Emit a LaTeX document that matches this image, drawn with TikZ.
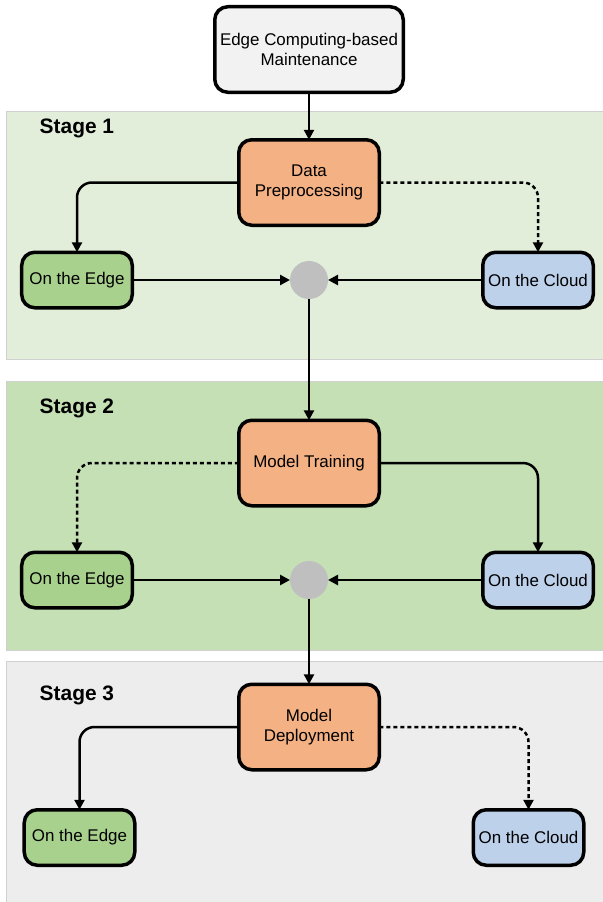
\documentclass[tikz,border=0pt]{standalone}
\usepackage{fontspec}
\setmainfont{Liberation Sans}
\usetikzlibrary{arrows.meta}
\definecolor{bgone}{HTML}{E2EED9}
\definecolor{bgtwo}{HTML}{C5E0B4}
\definecolor{bgthree}{HTML}{EDEDED}
\definecolor{bgline}{HTML}{D0D0D0}
\definecolor{orangefill}{HTML}{F4B183}
\definecolor{greenfill}{HTML}{A9D18E}
\definecolor{bluefill}{HTML}{BDD1EA}
\definecolor{topfill}{HTML}{F2F2F2}
\definecolor{hubfill}{HTML}{BFBFBF}
\begin{document}
\begin{tikzpicture}[x=1bp,y=-1bp,
  every node/.style={font=\fontsize{17}{20.5}\selectfont},
  stagebg/.style={draw=bgline,line width=1bp},
  box/.style={draw=black,line width=3.5bp,rounded corners=13bp,inner sep=0pt,outer sep=0pt,align=center},
  topbox/.style={box,fill=topfill,minimum width=188.5bp,minimum height=85.5bp},
  procbox/.style={box,fill=orangefill,minimum width=140.5bp,minimum height=85.5bp},
  edgebox/.style={box,fill=greenfill,minimum width=110.5bp,minimum height=55.5bp},
  cloudbox/.style={box,fill=bluefill,minimum width=110.5bp,minimum height=55.5bp},
  hub/.style={circle,fill=hubfill,minimum size=38bp,inner sep=0pt,outer sep=0pt},
  stagelabel/.style={font=\fontsize{21}{25}\selectfont\bfseries,anchor=west,inner sep=0pt},
  conn/.style={line width=2.5bp,-{Triangle[length=10bp,width=10bp]},rounded corners=15bp},
  dconn/.style={conn,dash pattern=on 4bp off 3bp}
]
\useasboundingbox (0,0) rectangle (603,902);
% stage backgrounds
\fill[white] (0,0) rectangle (603,902);
\draw[stagebg,fill=bgone] (6.5,111) rectangle (604,359);
\draw[stagebg,fill=bgtwo] (6.5,381) rectangle (604,650);
\draw[stagebg,fill=bgthree] (6.5,661) rectangle (604,903);
\node[stagelabel] (s1) at (39.5,128) {Stage 1};
\node[stagelabel] (s2) at (39.5,408) {Stage 2};
\node[stagelabel] (s3) at (39.5,695) {Stage 3};
% nodes
\node[topbox] (top) at (309,49.5) {Edge Computing-based\\Maintenance};
\node[procbox] (dp) at (309,182.5) {Data\\Preprocessing};
\node[edgebox] (e1) at (77,280) {On the Edge};
\node[cloudbox] (c1) at (538,280) {On the Cloud};
\node[hub] (h1) at (309,280) {};
\node[procbox] (mt) at (309,463) {Model Training};
\node[edgebox] (e2) at (77,580) {On the Edge};
\node[cloudbox] (c2) at (538,580) {On the Cloud};
\node[hub] (h2) at (309,580) {};
\node[procbox] (md) at (309,727) {Model\\Deployment};
\node[edgebox] (e3) at (79.5,837.5) {On the Edge};
\node[cloudbox] (c3) at (528.5,837.5) {On the Cloud};
% connectors
\draw[conn] (top) -- (dp);
\draw[conn] (dp.west) -| (e1.north);
\draw[dconn] (dp.east) -| (c1.north);
\draw[conn] (e1) -- (h1);
\draw[conn] (c1) -- (h1);
\draw[conn] (h1) -- (mt);
\draw[dconn] (mt.west) -| (e2.north);
\draw[conn] (mt.east) -| (c2.north);
\draw[conn] (e2) -- (h2);
\draw[conn] (c2) -- (h2);
\draw[conn] (h2) -- (md);
\draw[conn] (md.west) -| (e3.north);
\draw[dconn] (md.east) -| (c3.north);
\end{tikzpicture}
\end{document}
